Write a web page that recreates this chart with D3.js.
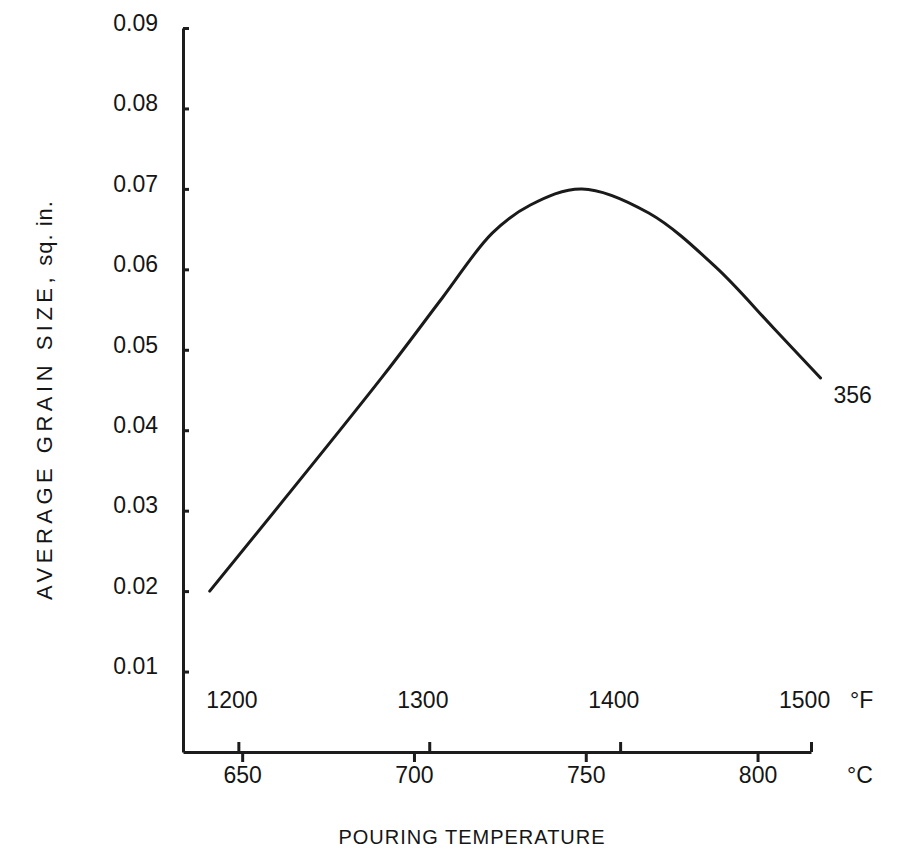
<!DOCTYPE html>
<html>
<head>
<meta charset="utf-8">
<script src="https://cdn.jsdelivr.net/npm/d3@7"></script>
<style>
  body { margin: 0; background: #fff; }
  svg text { font-family: "Liberation Sans", Arial, sans-serif; fill: #151515; }
</style>
</head>
<body>
<main></main>
<script>
// pouring temperature (deg F) vs average grain size (sq. in.), alloy 356
const tempF = [1185, 1275, 1307, 1333, 1353, 1380, 1415, 1450, 1480, 1505]
const grainSize = [0.020, 0.0465, 0.0565, 0.0645, 0.068, 0.070, 0.067, 0.0603, 0.0528, 0.0465]
const fTicks = [1200, 1300, 1400, 1500]
const cTicks = [650, 700, 750, 800]
const yTicks = [0.01, 0.02, 0.03, 0.04, 0.05, 0.06, 0.07, 0.08, 0.09]
const seriesLabel = "356"

const width = 907
const height = 849

let svg = d3.select("main")
    .append("svg")
    .attr("width", width)
    .attr("height", height)
    .attr("viewBox", [0, 0, width, height])

let x = d3.scaleLinear().domain([1171, 1500]).range([183, 811])
let toC = f => (f - 32) * 5 / 9
let xC = d3.scaleLinear().domain([toC(1171), toC(1500)]).range([183, 811])
let y = d3.scaleLinear().domain([0, 0.09]).range([752, 28])

let styleAxis = g => {
    g.selectAll("path, line").attr("stroke", "#1c1c1c").attr("stroke-width", 3)
    g.selectAll("text").attr("font-size", "23px").attr("fill", "#151515")
        .attr("font-family", '"Liberation Sans", Arial, sans-serif')
}

// y axis, ticks pointing into the plot
svg.append("g")
    .attr("transform", "translate(183,0)")
    .call(d3.axisLeft(y).tickValues(yTicks).tickFormat(d3.format(".2f"))
        .tickSize(-6).tickSizeOuter(0).tickPadding(25))
    .call(styleAxis)
    .call(g => g.selectAll("text").attr("dy", "0.1em"))

// deg F ticks above the base line
svg.append("g")
    .attr("transform", "translate(0,752)")
    .call(d3.axisTop(x).tickValues(fTicks).tickFormat(d3.format("d"))
        .tickSize(10).tickSizeOuter(0).tickPadding(34))
    .call(styleAxis)
    .call(g => g.selectAll("text").attr("dx", "-0.3em"))

// deg C ticks below
svg.append("g")
    .attr("transform", "translate(0,752)")
    .call(d3.axisBottom(xC).tickValues(cTicks).tickFormat(d3.format("d"))
        .tickSize(10).tickSizeOuter(0).tickPadding(5))
    .call(styleAxis)
    .call(g => g.select(".domain").remove())

svg.append("text").attr("x", 850).attr("y", 708).attr("font-size", "23px").text("°F")
svg.append("text").attr("x", 847).attr("y", 783).attr("font-size", "23px").text("°C")

let line = d3.line()
    .x((d, i) => x(tempF[i]))
    .y(d => y(d))
    .curve(d3.curveCatmullRom.alpha(0.5))

svg.append("path")
    .datum(grainSize)
    .attr("d", line)
    .attr("fill", "none")
    .attr("stroke", "#1a1a1a")
    .attr("stroke-width", 3)
    .attr("stroke-linecap", "round")

let last = tempF.length - 1
svg.append("text")
    .attr("x", x(tempF[last]) + 13)
    .attr("y", y(grainSize[last]) + 25)
    .attr("font-size", "23px")
    .text(seriesLabel)

// axis titles
svg.append("text")
    .attr("transform", "translate(52,600) rotate(-90)")
    .attr("font-size", "22px")
    .call(t => {
        t.append("tspan").attr("letter-spacing", "4.5px").text("AVERAGE GRAIN SIZE,")
        t.append("tspan").attr("letter-spacing", "1px").text(" sq. in.")
    })

svg.append("text")
    .attr("x", 472)
    .attr("y", 844)
    .attr("text-anchor", "middle")
    .attr("font-size", "20px")
    .attr("letter-spacing", "1px")
    .text("POURING TEMPERATURE")
</script>
</body>
</html>
